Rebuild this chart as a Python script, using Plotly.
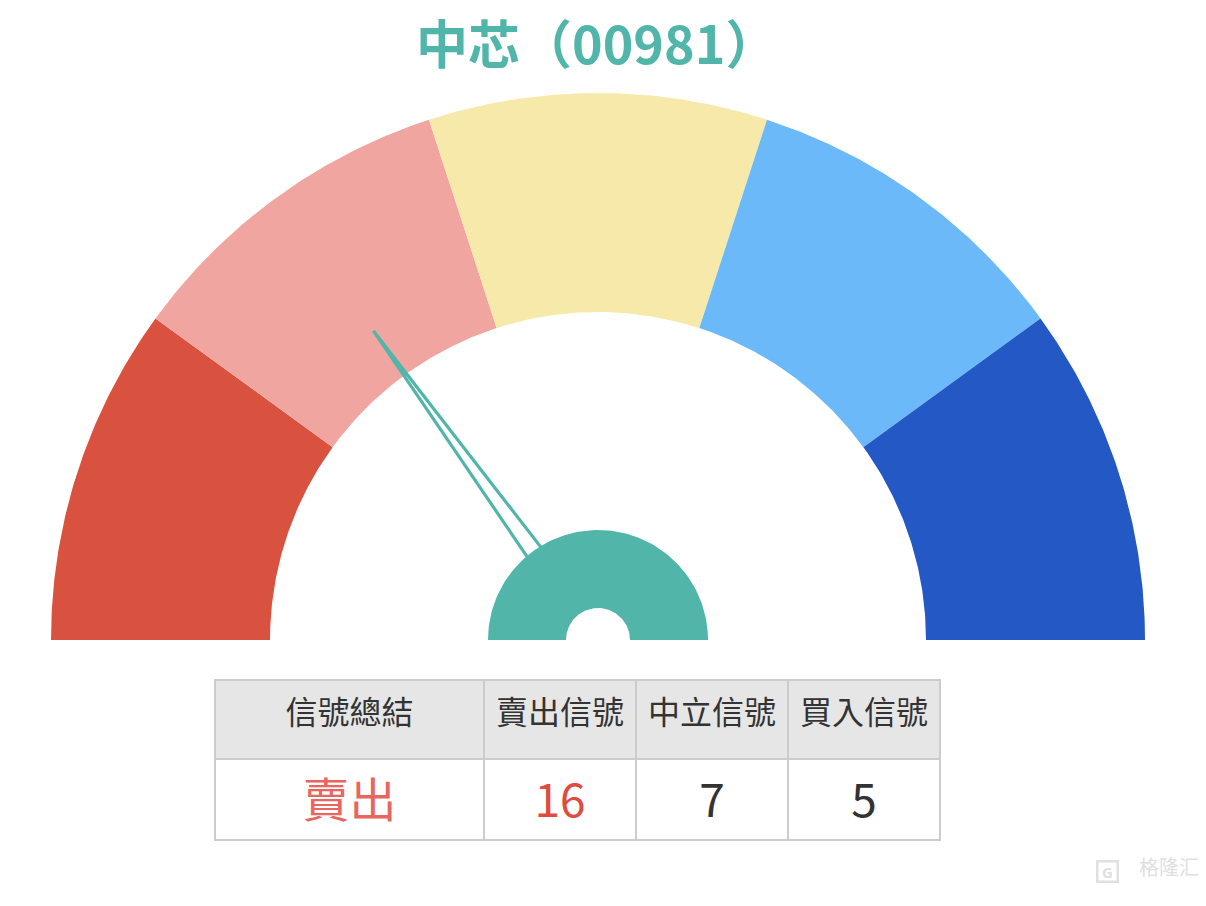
import numpy as np
import plotly.graph_objects as go

# ---- data ----
title_text = "中芯（00981）"
seg_edges = [0, 20, 40, 60, 80, 100]
seg_colors = ["#D9513F", "#F0A5A0", "#F6E9A9", "#6BB9F8", "#2458C4"]
needle_value = 30
header_labels = ["信號總結", "賣出信號", "中立信號", "買入信號"]
summary_label = "賣出"
signal_counts = [16, 7, 5]

# ---- style ----
TEAL = "#52B5AA"
R_OUT, R_IN = 547, 328
HUB_OUT, HUB_IN = 110, 32
NEEDLE_LEN, NEEDLE_BASE, NEEDLE_HALF = 382, 104, 8.5
FONT = "Noto Sans CJK TC"
W, H = 1206, 906


def ang(v):
    return np.deg2rad(180 - 1.8 * v)


def ring(a0, a1, r_out, r_in, n=90):
    t = np.linspace(ang(a0), ang(a1), n)
    xs = np.concatenate([r_out * np.cos(t), r_in * np.cos(t[::-1])])
    ys = np.concatenate([r_out * np.sin(t), r_in * np.sin(t[::-1])])
    return np.append(xs, xs[0]), np.append(ys, ys[0])


fig = go.Figure()

for i, c in enumerate(seg_colors):
    xs, ys = ring(seg_edges[i], seg_edges[i + 1], R_OUT, R_IN)
    fig.add_trace(go.Scatter(x=xs, y=ys, mode="lines", fill="toself",
                             fillcolor=c, line=dict(width=0, color=c),
                             hoverinfo="skip", showlegend=False))

# needle (outlined narrow triangle)
a = ang(needle_value)
perp = a + np.pi / 2
bx, by = NEEDLE_BASE * np.cos(a), NEEDLE_BASE * np.sin(a)
nx = [bx + NEEDLE_HALF * np.cos(perp), NEEDLE_LEN * np.cos(a),
      bx - NEEDLE_HALF * np.cos(perp)]
ny = [by + NEEDLE_HALF * np.sin(perp), NEEDLE_LEN * np.sin(a),
      by - NEEDLE_HALF * np.sin(perp)]
fig.add_trace(go.Scatter(x=nx, y=ny, mode="lines",
                         line=dict(color=TEAL, width=3.2),
                         hoverinfo="skip", showlegend=False))

# hub
xs, ys = ring(seg_edges[0], seg_edges[-1], HUB_OUT, HUB_IN)
fig.add_trace(go.Scatter(x=xs, y=ys, mode="lines", fill="toself",
                         fillcolor=TEAL, line=dict(width=0, color=TEAL),
                         hoverinfo="skip", showlegend=False))

# table: grid layer
cell_vals = [[summary_label]] + [[str(v)] for v in signal_counts]
cell_colors = [["#E8665E"], ["#E04B40"], ["#333333"], ["#333333"]]
tx = [215 / W, 940 / W]
fig.add_trace(go.Table(
    domain=dict(x=tx, y=[1 - 841 / H, 1 - 680 / H]),
    columnwidth=[269, 152, 152, 152],
    header=dict(values=["", "", "", ""], fill_color="#E6E6E6",
                line=dict(color="#CCCCCC", width=1.5), height=79),
    cells=dict(values=[[""]] * 4, fill_color="white",
               line=dict(color="#CCCCCC", width=1.5), height=81),
))
# table: text layer (shifted to centre text vertically)
clear = "rgba(0,0,0,0)"
fig.add_trace(go.Table(
    domain=dict(x=tx, y=[1 - 860 / H, 1 - 692 / H]),
    columnwidth=[269, 152, 152, 152],
    header=dict(values=header_labels, fill_color=clear,
                line=dict(color=clear, width=0), align="center",
                height=82, font=dict(family=FONT, size=32, color="#333333")),
    cells=dict(values=cell_vals, fill_color=clear,
               line=dict(color=clear, width=0), align="center",
               height=81, font=dict(family=FONT, size=[47, 46, 46, 46],
                                    color=cell_colors)),
))

fig.add_annotation(text=f"<b>{title_text}</b>", x=596 / W, y=1 - 41 / H,
                   xref="paper", yref="paper", showarrow=False,
                   yanchor="middle",
                   font=dict(family="Noto Sans CJK SC", size=52, color=TEAL))
fig.add_annotation(text="<b>G</b>", x=1119 / W, y=1 - 883 / H,
                   xref="paper", yref="paper", showarrow=False,
                   bordercolor="#E0E0E0", borderwidth=2.5, borderpad=1,
                   width=16, height=16,
                   font=dict(family="Noto Sans", size=15, color="#E0E0E0"))
fig.add_annotation(text="格隆汇", x=1201 / W, y=1 - 883 / H,
                   xref="paper", yref="paper", showarrow=False, xanchor="right",
                   font=dict(family="Noto Sans CJK SC", size=20, color="#E0E0E0"))

fig.update_layout(
    width=W, height=H, margin=dict(l=0, r=0, t=0, b=0),
    paper_bgcolor="white", plot_bgcolor="white",
    xaxis=dict(range=[-598, 608], visible=False, fixedrange=True),
    yaxis=dict(range=[-266, 640], visible=False, fixedrange=True),
)

fig.write_html("out.html", config={"displayModeBar": False},
               post_script="document.body.style.margin='0';"
                           "document.body.style.overflow='hidden';")
